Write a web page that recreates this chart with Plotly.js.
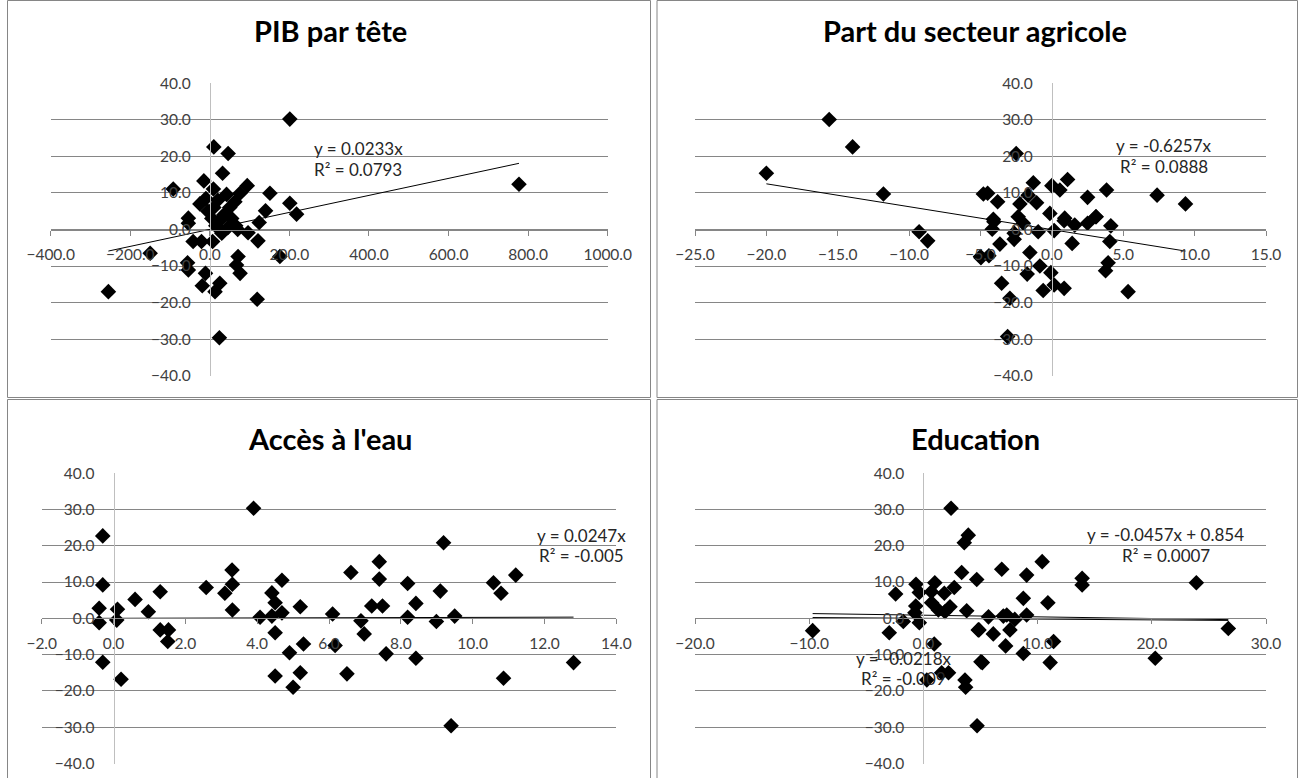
<!DOCTYPE html>
<html><head><meta charset="utf-8">
<script src="https://cdn.plot.ly/plotly-3.0.1.min.js"></script>
<style>html,body{margin:0;padding:0;background:#fff}#chart{width:1300px;height:778px}</style>
</head><body><div id="chart"></div>
<script>
// ---- data ----
const titles = ["PIB par tête", "Part du secteur agricole", "Accès à l'eau", "Education"];

const pibX = [-255,-150,-92,-54,-54,-42,-21,7,-56,-54,-11,-19,25,13,71,67,76,121,124,96,176,218,140,119,24,201,777,10,46,32,-15,9,94,151,76,42,-25,63,201,-5,5,15,25,35,45,55,65,30,10,50,-10,20,70];
const pibY = [-17,-6.5,11.1,1.7,3.1,-3.3,-3.3,-3.3,-9.1,-11.1,-12,-15.4,-14.7,-17,-7.4,-9.7,-12,-3.1,1.9,-0.9,-7.4,4.2,5.1,-19.1,-29.6,30.2,12.4,22.6,20.8,15.4,13.3,11.1,12,9.9,9.9,9.6,7,7.6,7.2,5,3,1,2.5,4,0.5,3,1,-1,6,6,8.5,8,0];

const agriX = [-20.0,-15.6,-13.96,-11.8,-4.8,-9.3,-8.7,-5.0,-2.5,-4.5,-3.8,-1.3,-1.66,-2.24,-1.07,0,0.56,1.1,2.5,3.83,7.37,9.36,-0.14,0.9,3.1,-4.1,-4.06,-4.18,-3.64,-4.97,-4.41,-2.64,-2.64,-2.36,-1.54,-0.84,-1.73,-0.07,-3.52,-2.94,-0.61,0.16,0.86,-3.1,1.42,0.16,0.86,1.6,2.5,3.08,4.13,4.06,3.94,3.76,5.34,-0.96,-2.0];
const agriY = [15.4,30.1,22.6,9.7,9.7,-0.6,-3.1,-7.4,20.8,9.9,7.6,12.8,9.4,7,7.3,12,10.8,13.7,8.8,10.8,9.4,7,4.4,3.1,3.5,2.8,2.1,0.1,-4,-7.7,-7.2,-2.7,-1,3.5,-6.3,-10,-12.2,-11.8,-14.7,-18.8,-16.7,-15.2,-16.1,-29.3,-3.8,-0.3,2.4,1.2,1.7,3.5,1,-3.3,-9.1,-11.3,-17,-0.6,1.7];

const eauX = [3.9,-0.3,-0.3,-0.4,-0.4,-0.3,0.11,0.09,0.6,1.3,0.97,1.3,1.53,1.51,2.58,3.3,3.31,3.1,3.31,4.08,4.41,4.41,4.5,4.69,4.69,5.2,4.5,4.9,5.29,4.5,5.2,0.21,6.1,6.17,6.89,6.98,6.61,7.4,7.4,7.19,7.49,7.59,6.5,8.19,8.19,8.42,8.42,8.99,9.1,9.19,9.5,10.58,10.79,11.2,10.86,12.81,9.4,5.0];
const eauY = [30.3,22.7,9.2,2.75,-1.2,-12.1,2.5,-0.5,5.2,7.3,1.8,-3.2,-3.2,-6.4,8.5,13.3,9.4,6.9,2.3,0.3,0.6,7.0,4.3,10.5,1.5,3.2,-4.0,-9.5,-7.1,-15.9,-15,-16.8,1.2,-7.5,-0.7,-4.3,12.6,15.6,10.8,3.4,3.4,-9.8,-15.3,9.6,0.3,4.1,-11,-0.9,7.5,20.8,0.6,9.8,6.9,11.9,-16.5,-12.2,-29.6,-19];

const eduX = [2.42,3.93,3.58,3.35,4.67,-0.65,1.0,-2.43,-0.36,2.7,0.7,1.83,-0.67,-0.74,0.72,1.31,1.89,2.33,3.79,-1.76,-0.36,-2.99,-9.7,0.95,4.8,5.04,1.6,2.2,3.64,0.3,6.86,9.04,10.4,13.9,13.9,23.9,8.75,10.9,5.7,7.0,7.3,8.0,9.04,7.58,4.87,6.12,26.7,11.4,7.2,8.75,20.3,11.1,5.16,4.7,3.7];
const eduY = [30.3,22.9,20.8,12.6,10.7,9.4,9.8,6.7,7.1,8.5,7.3,6.9,3.4,1.5,4.3,2.3,1.8,3.2,2.1,-0.9,-1.2,-4,-3.4,-7.1,-3.2,-12,-15,-15,-17,-17,13.5,11.9,15.6,11,9.2,9.8,5.5,4.3,0.4,0.6,0.9,-0.3,0.9,-3.2,-3.2,-4.3,-2.8,-6.4,-7.6,-9.7,-11,-12.2,-12.2,-29.6,-19];

// trend lines (end points)
const pibTrendX = [-255, 777], pibTrendY = [-5.9, 18.1];
const agriTrendX = [-20.0, 9.36], agriTrendY = [12.5, -5.9];
const eauTrendX = [-0.4, 12.81], eauTrendY = [-0.01, 0.32];
const eduTrend1X = [-9.7, 26.7], eduTrend1Y = [1.30, -0.37];
const eduTrend2X = [-9.7, 26.7], eduTrend2Y = [0.21, -0.58];

const eqPib = ["y = 0.0233x", "R² = 0.0793"];
const eqAgri = ["y = -0.6257x", "R² = 0.0888"];
const eqEau = ["y = 0.0247x", "R² = -0.005"];
const eqEdu1 = ["y = -0.0457x + 0.854", "R² = 0.0007"];
const eqEdu2 = ["y = -0.0218x", "R² = -0.009"];

const xRanges = [[-400,1000],[-25,15],[-2,14],[-20,30]];
const xSteps = [200, 5, 2, 10];
const yRange = [-40, 40];

// ---- layout helpers (pixel geometry) ----
const W = 1300, H = 778;
const px = v => v / W, py = v => 1 - v / H;
// plot boxes [left, right, top(40), bottom(-40)] in pixels
const boxes = [[50.7,607.7,83.3,375.7],[695,1266,83.3,375.7],[41.7,616.3,473.1,763.5],[695,1266,473.1,763.5]];

const FONT = "Lato, 'Open Sans', sans-serif";
const tickFont = {family: FONT, size: 15.5, color: '#404040'};
const eqFont = {family: FONT, size: 17, color: '#262626'};

const layout = {
  width: W, height: H, margin: {l:0,r:0,t:0,b:0},
  paper_bgcolor: '#fff', plot_bgcolor: 'rgba(0,0,0,0)',
  showlegend: false, annotations: [], shapes: []
};

const data = [];
const marker = {symbol: 'diamond', size: 12, color: '#000'};
const sets = [[pibX,pibY],[agriX,agriY],[eauX,eauY],[eduX,eduY]];
const trends = [[[pibTrendX,pibTrendY]],[[agriTrendX,agriTrendY]],[[eauTrendX,eauTrendY]],[[eduTrend1X,eduTrend1Y],[eduTrend2X,eduTrend2Y]]];

for (let i = 0; i < 4; i++) {
  const b = boxes[i];
  const xr = xRanges[i];
  const xn = i === 0 ? 'x' : 'x' + (i+1), yn = i === 0 ? 'y' : 'y' + (i+1);
  const xk = i === 0 ? 'xaxis' : 'xaxis' + (i+1), yk = i === 0 ? 'yaxis' : 'yaxis' + (i+1);
  const zeroXpx = b[0] + (0 - xr[0]) / (xr[1] - xr[0]) * (b[1] - b[0]);
  const zeroYpx = (b[2] + b[3]) / 2;
  layout[xk] = {
    domain: [px(b[0]), px(b[1])], range: xr, anchor: 'free', position: py(zeroYpx),
    showgrid: false, zeroline: false, showline: true, linecolor: '#868686', linewidth: 1,
    ticks: 'outside', ticklen: 5, tickcolor: '#868686', tickwidth: 1,
    dtick: xSteps[i], tick0: 0, tickformat: '.1f', tickfont: tickFont, ticklabelstandoff: 6,
    fixedrange: true
  };
  layout[yk] = {
    domain: [py(b[3]), py(b[2])], range: yRange, anchor: 'free', position: px(zeroXpx),
    showgrid: true, gridcolor: '#868686', gridwidth: 1, zeroline: false,
    showline: true, linecolor: '#BFBFBF', linewidth: 1, ticks: '',
    dtick: 10, tick0: 0, tickformat: '.1f', tickfont: tickFont, ticklabelstandoff: 16,
    fixedrange: true
  };
  trends[i].forEach(t => data.push({x: t[0], y: t[1], xaxis: xn, yaxis: yn, mode: 'lines', line: {color: '#000', width: 1}, hoverinfo: 'skip'}));
  data.push({x: sets[i][0], y: sets[i][1], xaxis: xn, yaxis: yn, mode: 'markers', marker: marker, hoverinfo: 'skip'});
}

// titles
const titlePos = [[330,30],[975,30],[330,438],[975,438]];
titles.forEach((t, i) => layout.annotations.push({text: '<b>' + t + '</b>', xref: 'paper', yref: 'paper', x: px(titlePos[i][0]), y: py(titlePos[i][1]), xanchor: 'center', yanchor: 'middle', showarrow: false, font: {family: FONT, size: 29, color: '#000'}}));

// equations (placed in data coords of each subplot)
function eq(lines, xa, ya, x, y1, y2) {
  layout.annotations.push({text: lines[0], xref: xa, yref: ya, x: x, y: y1, xanchor: 'center', yanchor: 'middle', showarrow: false, font: eqFont});
  layout.annotations.push({text: lines[1], xref: xa, yref: ya, x: x, y: y2, xanchor: 'center', yanchor: 'middle', showarrow: false, font: eqFont});
}
eq(eqPib, 'x', 'y', 373, 22.2, 16.4);
eq(eqAgri, 'x2', 'y2', 7.84, 22.9, 17.2);
eq(eqEau, 'x3', 'y3', 13.04, 22.9, 17.2);
eq(eqEdu1, 'x4', 'y4', 21.24, 23.2, 17.4);
eq(eqEdu2, 'x4', 'y4', -1.7, -11, -16.7);

// panel frames
const frames = [[7.5,0.5,650.5,397.5],[657,0.5,1297.5,397.5],[7.5,399.5,650.5,790],[657,399.5,1297.5,790]];
frames.forEach(f => layout.shapes.push({type: 'rect', xref: 'paper', yref: 'paper', x0: px(f[0]), x1: px(f[2]), y0: py(f[1]), y1: py(f[3]), line: {color: '#868686', width: 1}, fillcolor: 'rgba(0,0,0,0)', layer: 'below'}));

Plotly.newPlot('chart', data, layout, {displayModeBar: false, staticPlot: true});
</script></body></html>
